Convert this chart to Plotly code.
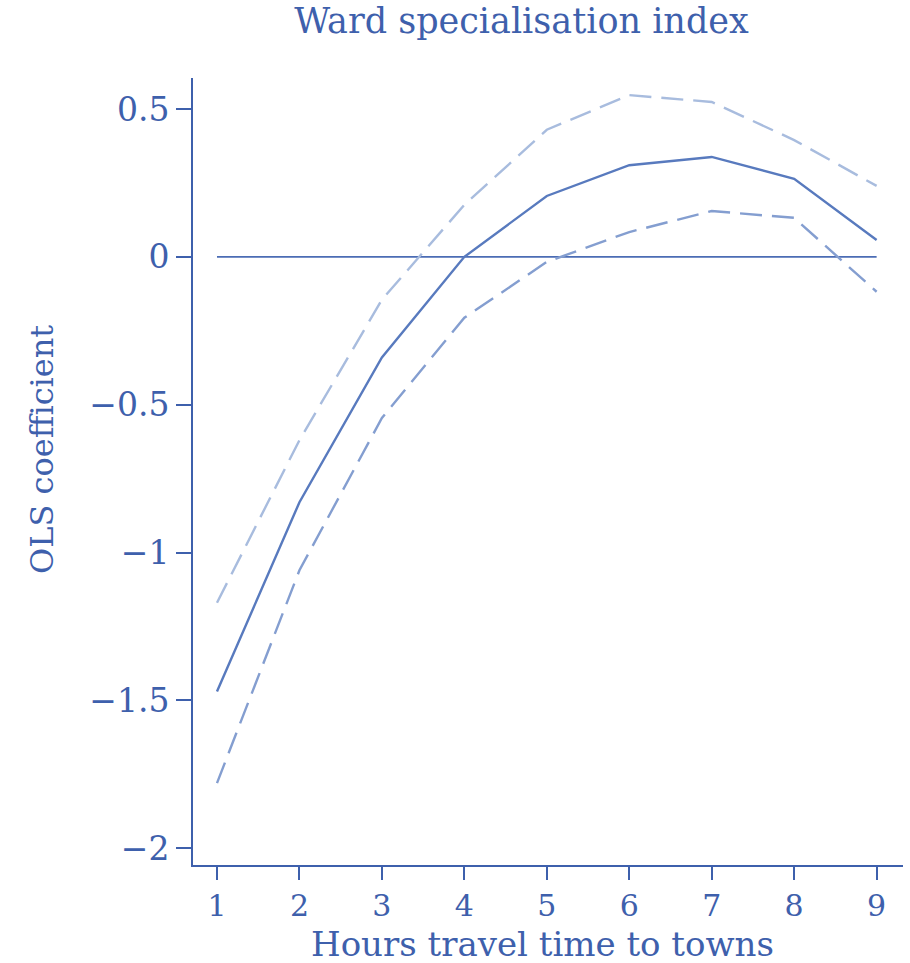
import plotly.graph_objects as go

hours = [1, 2, 3, 4, 5, 6, 7, 8, 9]
coef = [-1.47, -0.83, -0.34, 0.0, 0.206, 0.31, 0.338, 0.264, 0.057]
upper_ci = [-1.17, -0.62, -0.145, 0.176, 0.43, 0.547, 0.524, 0.395, 0.24]
lower_ci = [-1.78, -1.06, -0.545, -0.206, -0.017, 0.084, 0.155, 0.132, -0.118]
y_ticks = [0.5, 0, -0.5, -1, -1.5, -2]
y_tick_labels = ["0.5", "0", "\u22120.5", "\u22121", "\u22121.5", "\u22122"]

AXIS = "rgb(62,96,172)"
FONT = "DejaVu Serif, serif"

fig = go.Figure()
fig.add_trace(go.Scatter(x=[hours[0], hours[-1]], y=[0, 0], mode="lines",
                         line=dict(color="rgb(75,108,180)", width=1.6),
                         showlegend=False, hoverinfo="skip"))
fig.add_trace(go.Scatter(x=hours, y=upper_ci, mode="lines",
                         line=dict(color="rgb(168,188,222)", width=2.4, dash="22px,10px"),
                         showlegend=False))
fig.add_trace(go.Scatter(x=hours, y=lower_ci, mode="lines",
                         line=dict(color="rgb(132,158,208)", width=2.4, dash="22px,10px"),
                         showlegend=False))
fig.add_trace(go.Scatter(x=hours, y=coef, mode="lines",
                         line=dict(color="rgb(88,122,190)", width=2.4),
                         showlegend=False))

fig.update_layout(
    width=910, height=963,
    margin=dict(l=193, r=7, t=78, b=98),
    paper_bgcolor="white", plot_bgcolor="white",
    font=dict(family=FONT, color=AXIS, size=32),
    title=dict(text="Ward specialisation index", x=0.573, xanchor="center",
               y=1 - 21 / 963, yanchor="middle", yref="container",
               font=dict(family=FONT, size=35, color=AXIS)),
    xaxis=dict(range=[0.709, 9.32], tickvals=hours, ticktext=[str(h) for h in hours],
               showgrid=False, zeroline=False, showline=True, linecolor=AXIS, linewidth=2,
               ticks="outside", ticklen=13, tickwidth=2, tickcolor=AXIS,
               tickfont=dict(family=FONT, size=30, color=AXIS)),
    yaxis=dict(range=[-2.057, 0.605], tickvals=y_ticks, ticktext=y_tick_labels,
               showgrid=False, zeroline=False, showline=True, linecolor=AXIS, linewidth=2,
               ticks="outside", ticklen=15, tickwidth=2, tickcolor=AXIS,
               tickfont=dict(family=FONT, size=33, color=AXIS)),
    annotations=[
        dict(text="Hours travel time to towns", xref="paper", yref="paper",
             x=(542 - 193) / 710, y=-(944 - 865) / 787, xanchor="center", yanchor="middle",
             showarrow=False, font=dict(family=FONT, size=34, color=AXIS)),
        dict(text="OLS coefficient", xref="paper", yref="paper",
             x=-(193 - 42) / 710, y=(865 - 450) / 787, xanchor="center", yanchor="middle",
             textangle=-90, showarrow=False, font=dict(family=FONT, size=32, color=AXIS)),
    ],
)

fig.write_html("out.html")
